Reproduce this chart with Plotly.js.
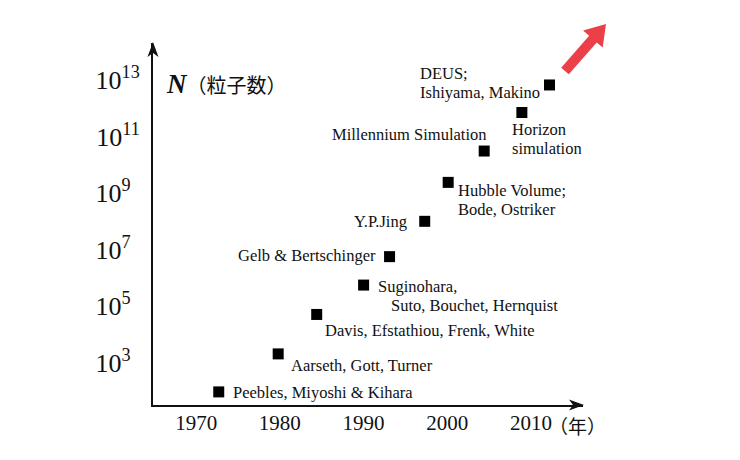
<!DOCTYPE html>
<html><head><meta charset="utf-8">
<script src="https://cdn.plot.ly/plotly-3.0.1.min.js"></script>
<style>html,body{margin:0;padding:0;background:#fff}</style>
</head><body><div id="chart" style="width:740px;height:460px"></div>
<script>
// ---- data ----
const years = [1972.7, 1979.8, 1984.4, 1990.0, 1993.1, 1997.3, 2000.1, 2004.4, 2008.9, 2012.2];
const particles = [90, 2.0e3, 5.0e4, 5.5e5, 5.6e6, 1.0e8, 2.4e9, 3.1e10, 7.2e11, 6.8e12];
const labels = [
  ["Peebles, Miyoshi & Kihara"],
  ["Aarseth, Gott, Turner"],
  ["Davis, Efstathiou, Frenk, White"],
  ["Suginohara,", "Suto, Bouchet, Hernquist"],
  ["Gelb & Bertschinger"],
  ["Y.P.Jing"],
  ["Hubble Volume;", "Bode, Ostriker"],
  ["Millennium Simulation"],
  ["Horizon", "simulation"],
  ["DEUS;", "Ishiyama, Makino"]
];
const yearTicks = [1970, 1980, 1990, 2000, 2010];
const yearTickText = ["1970", "1980", "1990", "2000", "2010"];
const nTickExponents = [3, 5, 7, 9, 11, 13];
const yTitle = "N";
const yUnit = "（粒子数）";
const xUnit = "（年）";

// ---- layout-only placement of label lines: [xanchor, dx px, dy px (down)] ----
const place = [
  [["left", 13, 1]],
  [["left", 11.5, 11.5]],
  [["left", 7, 16.5]],
  [["left", 13, 1], ["left", 26, 20]],
  [["right", -12.5, -1.5]],
  [["right", -17, 0.5]],
  [["left", 9, 8.5], ["left", 9, 27.5]],
  [["right", 3, -17]],
  [["left", -11, 17.5], ["left", -11, 36.5]],
  [["left", -131, -11], ["left", -131, 8]]
];

const W = 740, H = 460;
const M = {l: 153, r: 157, t: 43, b: 55};
const PW = W - M.l - M.r, PH = H - M.t - M.b;
const px = x => (x - M.l) / PW;
const py = y => (H - M.b - y) / PH;
function poly(pts) {
  return 'M' + pts.map(p => px(p[0]).toFixed(4) + ',' + py(p[1]).toFixed(4)).join('L') + 'Z';
}

const serif = "'Liberation Serif', 'DejaVu Serif', serif";
const cjk = "'Noto Sans CJK JP', sans-serif";

const yTickVals = nTickExponents.map(e => Math.pow(10, e));
const yTickText = nTickExponents.map(e => '10<sup>' + e + (e < 10 ? '\u00a0\u00a0' : '') + '</sup>');

const annotations = [];
labels.forEach((lines, i) => {
  lines.forEach((t, j) => {
    const p = place[i][j];
    annotations.push({
      x: years[i], y: Math.log10(particles[i]), xref: 'x', yref: 'y',
      text: t, showarrow: false, xanchor: p[0], yanchor: 'middle',
      xshift: p[1], yshift: -p[2], borderpad: 0,
      font: {family: serif, size: 16.5, color: '#111'}
    });
  });
});
annotations.push({
  xref: 'paper', yref: 'paper', x: px(165), y: py(84), xanchor: 'left', yanchor: 'middle',
  showarrow: false, borderpad: 0,
  text: '<b><i>' + yTitle + '</i></b><span style="font-family:\'Noto Sans CJK JP\';font-size:20px">' + yUnit + '</span>',
  font: {family: serif, size: 27, color: '#111'}
});
annotations.push({
  xref: 'paper', yref: 'paper', x: px(577), y: py(425), xanchor: 'center', yanchor: 'middle',
  showarrow: false, borderpad: 0, text: xUnit,
  font: {family: cjk, size: 19, color: '#111'}
});

const shapes = [
  // y-axis arrowhead
  {type: 'path', xref: 'paper', yref: 'paper', path: poly([[153, 42], [147.5, 57], [153, 53], [158.5, 57]]),
   fillcolor: '#111', line: {width: 0}, layer: 'above'},
  // x-axis arrowhead
  {type: 'path', xref: 'paper', yref: 'paper', path: poly([[584, 405], [569, 399.5], [573, 405], [569, 410.5]]),
   fillcolor: '#111', line: {width: 0}, layer: 'above'},
  // red trend arrow
  {type: 'path', xref: 'paper', yref: 'paper',
   path: poly([[568.8, 74.3], [596.7, 42.4], [602.7, 47.6], [606, 24], [583.1, 30.6], [589.1, 35.8], [561.2, 67.7]]),
   fillcolor: '#ec4048', line: {width: 0}, layer: 'above'}
];

const trace = {
  x: years, y: particles, type: 'scatter', mode: 'markers',
  marker: {symbol: 'square', size: 11, color: '#000'},
  hoverinfo: 'skip', cliponaxis: false
};

const layout = {
  width: W, height: H, margin: M,
  paper_bgcolor: '#fff', plot_bgcolor: '#fff',
  showlegend: false,
  xaxis: {
    range: [1964.85, 2016.2], tickvals: yearTicks, ticktext: yearTickText,
    showgrid: false, zeroline: false, showline: true, linewidth: 2, linecolor: '#111',
    ticks: '', tickfont: {family: serif, size: 21, color: '#111'}, ticklabelstandoff: -2
  },
  yaxis: {
    type: 'log', range: [1.49, 14.32], tickvals: yTickVals, ticktext: yTickText,
    showgrid: false, zeroline: false, showline: true, linewidth: 2, linecolor: '#111',
    ticks: '', tickfont: {family: serif, size: 26, color: '#111'}, ticklabelstandoff: 6
  },
  annotations: annotations,
  shapes: shapes
};

Plotly.newPlot('chart', [trace], layout, {displayModeBar: false, staticPlot: true});
</script>
</body></html>
